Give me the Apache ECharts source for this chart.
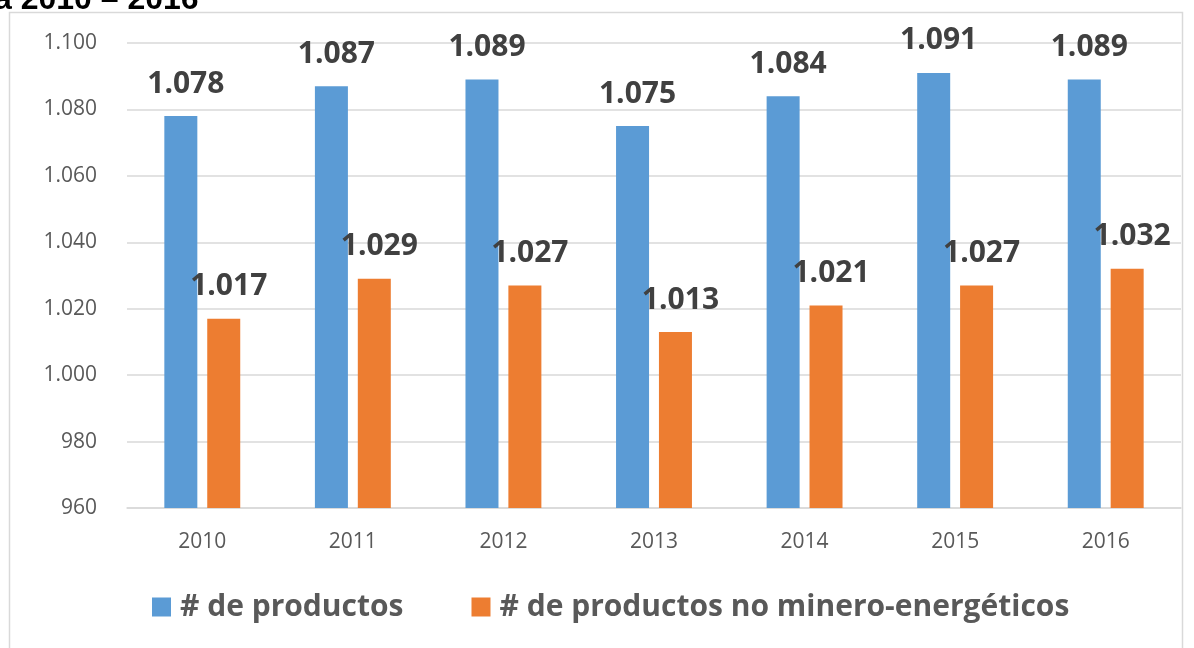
<!DOCTYPE html>
<html>
<head>
<meta charset="utf-8">
<script src="https://cdn.jsdelivr.net/npm/echarts@6/dist/echarts.min.js"></script>
<style>
  html, body { margin: 0; padding: 0; background: #fff; }
  #chart { width: 1194px; height: 648px; }
</style>
</head>
<body>
<div id="chart"></div>
<script>
// datos
const years = ['2010', '2011', '2012', '2013', '2014', '2015', '2016']
const productos = [1078, 1087, 1089, 1075, 1084, 1091, 1089]
const noMinero = [1017, 1029, 1027, 1013, 1021, 1027, 1032]
const seriesNames = ['# de productos', '# de productos no minero-energéticos']

// 1078 -> "1.078"
const fmt = v => {
  const s = String(Math.round(v))
  return s.length > 3 ? s.slice(0, s.length - 3) + '.' + s.slice(-3) : s
}

const labelStyle = {
  show: true,
  position: 'top',
  distance: 17,
  offset: [5, 0],
  formatter: p => fmt(p.value),
  color: '#404040',
  fontSize: 30,
  fontWeight: 'bold',
  fontFamily: 'Open Sans'
}

const myChart = echarts.init(document.getElementById('chart'))
myChart.setOption({
  animation: false,
  graphic: [
    {
      type: 'rect',
      shape: { x: 9.5, y: 12.5, width: 1173, height: 660 },
      style: { fill: 'none', stroke: '#d9d9d9', lineWidth: 1.5 },
      silent: true
    },
    {
      type: 'text',
      left: -6,
      top: -16,
      style: {
        text: 'a 2010 – 2016',
        font: 'bold 32px "Liberation Sans", Arial',
        fill: '#000'
      },
      silent: true
    }
  ],
  grid: {
    left: 127,
    right: 13,
    top: 43,
    bottom: 140
  },
  legend: {
    top: 592,
    left: 152,
    padding: 0,
    itemWidth: 19,
    itemHeight: 19,
    itemGap: 68,
    icon: 'rect',
    textStyle: {
      color: '#595959',
      fontSize: 30,
      fontWeight: 'bold',
      fontFamily: 'Open Sans',
      padding: [0, 0, 0, 4]
    },
    data: seriesNames
  },
  xAxis: {
    type: 'category',
    data: years,
    axisLine: { lineStyle: { color: '#d9d9d9', width: 1.5 } },
    axisTick: { show: false },
    axisLabel: {
      color: '#595959',
      fontSize: 21,
      margin: 24,
      fontFamily: 'Open Sans'
    }
  },
  yAxis: {
    type: 'value',
    min: 960,
    max: 1100,
    interval: 20,
    axisLine: { show: false },
    axisTick: { show: false },
    splitLine: { lineStyle: { color: '#d9d9d9', width: 1.5 } },
    axisLabel: {
      color: '#595959',
      fontSize: 21,
      margin: 30,
      fontFamily: 'Open Sans',
      formatter: v => fmt(v)
    }
  },
  series: [
    {
      name: seriesNames[0],
      type: 'bar',
      data: productos,
      barWidth: 33,
      barGap: '30%',
      itemStyle: { color: '#5B9BD5' },
      label: labelStyle
    },
    {
      name: seriesNames[1],
      type: 'bar',
      data: noMinero,
      barWidth: 33,
      itemStyle: { color: '#ED7D31' },
      label: labelStyle
    }
  ]
})
</script>
</body>
</html>
